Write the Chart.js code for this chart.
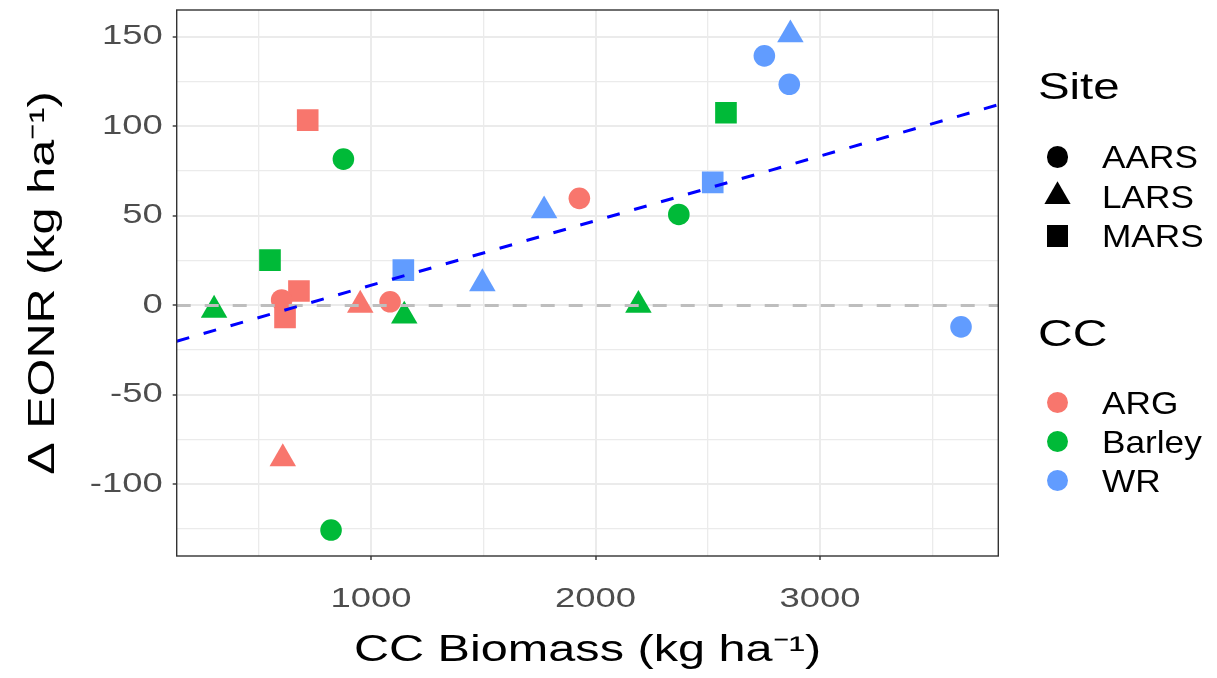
<!DOCTYPE html>
<html><head><meta charset="utf-8">
<script src="https://cdn.jsdelivr.net/npm/chart.js@4.4.0/dist/chart.umd.min.js"></script>
<style>
html,body{margin:0;padding:0;background:#fff;}
#wrap{position:relative;width:1217px;height:678px;overflow:hidden;font-family:"Liberation Sans",Arial,sans-serif;background:#fff;}
#c{position:absolute;left:0;top:0;}
.lg{position:absolute;white-space:nowrap;color:#000;transform-origin:0 50%;}
.sym{position:absolute;}
</style></head><body>
<div id="wrap"><canvas id="c" width="1217" height="678"></canvas><div id="legend"></div></div>
<script>
// ---------------- data ----------------
const ccLevels = ['ARG', 'Barley', 'WR'];
const siteLevels = ['AARS', 'LARS', 'MARS'];
const biomass    = [718, 679, 617, 602, 952, 1085, 607, 1928,
                    877, 550, 301, 1148, 822, 2191, 2371, 2581,
                    1771, 1144, 1496, 2868, 2752, 2863, 2522, 3628];
const deltaEONR  = [103.5, 8.0, -6.8, 3.0, 0.2, 2.0, -85.6, 59.8,
                    81.7, 25.3, -2.6, -5.9, -125.5, 0.1, 50.8, 107.6,
                    52.9, 19.7, 12.2, 151.2, 139.4, 123.5, 68.7, -12.0];
const ccOf       = ['ARG','ARG','ARG','ARG','ARG','ARG','ARG','ARG',
                    'Barley','Barley','Barley','Barley','Barley','Barley','Barley','Barley',
                    'WR','WR','WR','WR','WR','WR','WR','WR'];
const siteOf     = ['MARS','MARS','MARS','AARS','LARS','AARS','LARS','AARS',
                    'AARS','MARS','LARS','LARS','AARS','LARS','AARS','MARS',
                    'LARS','MARS','LARS','LARS','AARS','AARS','MARS','AARS'];
const fitIntercept = -24.9;
const fitSlope = 0.03611;
const refLineY = 0;
const xGridValues = [500, 1000, 1500, 2000, 2500, 3000, 3500];
const yGridValues = [-125, -100, -75, -50, -25, 0, 25, 50, 75, 100, 125, 150];
const xMajorTicks = [1000, 2000, 3000];
const yMajorTicks = [-100, -50, 0, 50, 100, 150];
const xTitle = 'CC Biomass (kg ha\u207B\u00B9)';
const yTitle = '\u0394 EONR (kg ha\u207B\u00B9)';

// ---------------- styles ----------------
const X_MIN = 134.5, X_MAX = 3794, Y_MIN = -140, Y_MAX = 165;
const ccColors = {ARG: '#F8766D', Barley: '#00BA38', WR: '#619CFF'};
const siteStyle = {AARS: 'circle', LARS: 'triangle', MARS: 'rect'};
const siteRadius = {AARS: 10.8, LARS: 15.3, MARS: 15.3};
const FONT = '"Liberation Sans", Arial, sans-serif';
const TEXT_SX = 1.35;

const canvas = document.getElementById('c');
const ctx = canvas.getContext('2d');
const rawFill = ctx.fillText.bind(ctx);
ctx.fillText = function (t, x, y, mw) {
  ctx.save(); ctx.translate(x, y); ctx.scale(TEXT_SX, 1);
  if (mw !== undefined && mw !== null) rawFill(t, 0, 0, mw / TEXT_SX); else rawFill(t, 0, 0);
  ctx.restore();
};

const pointSets = ccLevels.map(cc => {
  const idx = biomass.map((_, i) => i).filter(i => ccOf[i] === cc);
  return {
    type: 'scatter',
    label: cc,
    order: 3,
    data: idx.map(i => ({x: biomass[i], y: deltaEONR[i]})),
    pointStyle: idx.map(i => siteStyle[siteOf[i]]),
    pointRadius: idx.map(i => siteRadius[siteOf[i]]),
    backgroundColor: ccColors[cc],
    borderColor: ccColors[cc],
    pointBorderWidth: 0,
    showLine: false
  };
});

const refLine = {
  type: 'line', label: 'zero', order: 2,
  data: [{x: X_MIN, y: refLineY}, {x: X_MAX, y: refLineY}],
  borderColor: '#BEBEBE', borderWidth: 3, borderDash: [14, 14],
  pointRadius: 0, fill: false, tension: 0
};
const fitLine = {
  type: 'line', label: 'fit', order: 1,
  data: [{x: X_MIN, y: fitIntercept + fitSlope * X_MIN}, {x: X_MAX, y: fitIntercept + fitSlope * X_MAX}],
  borderColor: '#0000FF', borderWidth: 3, borderDash: [13, 15],
  pointRadius: 0, fill: false, tension: 0
};

const panelBorder = {
  id: 'panelBorder',
  afterDatasetsDraw(chart) {
    const a = chart.chartArea, c = chart.ctx;
    c.save(); c.strokeStyle = '#333333'; c.lineWidth = 1.4;
    c.strokeRect(a.left, a.top, a.right - a.left, a.bottom - a.top);
    c.restore();
  }
};

const isMajor = (list, v) => list.some(m => Math.abs(m - v) < 1e-6);
const noPad = s => { s.paddingTop = 0; s.paddingBottom = 0; s.paddingLeft = 0; s.paddingRight = 0; };

new Chart(ctx, {
  data: {datasets: [...pointSets, refLine, fitLine]},
  options: {
    responsive: false, animation: false, devicePixelRatio: 1, events: [],
    layout: {autoPadding: false, padding: {top: 10, right: 218.7, bottom: 0, left: 0}},
    plugins: {legend: {display: false}, tooltip: {enabled: false}},
    scales: {
      x: {
        type: 'linear', min: X_MIN, max: X_MAX, offset: false,
        afterBuildTicks: s => { s.ticks = xGridValues.map(v => ({value: v})); },
        afterFit: s => { s.height = 122; noPad(s); },
        border: {display: false},
        grid: {
          color: '#EBEBEB',
          lineWidth: c => (c.tick && isMajor(xMajorTicks, c.tick.value)) ? 2 : 1.3,
          tickLength: 4, tickWidth: 1.4,
          tickColor: c => (c.tick && isMajor(xMajorTicks, c.tick.value)) ? '#333333' : 'rgba(0,0,0,0)'
        },
        ticks: {
          autoSkip: false, maxRotation: 0, minRotation: 0,
          padding: 23, color: '#4D4D4D', font: {family: FONT, size: 27},
          callback: v => isMajor(xMajorTicks, v) ? String(v) : ''
        },
        title: {display: true, text: xTitle, color: '#000', font: {family: FONT, size: 36},
                padding: {top: 0, bottom: 5}}
      },
      y: {
        type: 'linear', min: Y_MIN, max: Y_MAX,
        afterBuildTicks: s => { s.ticks = yGridValues.map(v => ({value: v})); },
        afterFit: s => { s.width = 176.7; noPad(s); },
        border: {display: false},
        grid: {
          color: '#EBEBEB',
          lineWidth: c => (c.tick && isMajor(yMajorTicks, c.tick.value)) ? 2 : 1.3,
          tickLength: 4, tickWidth: 1.4,
          tickColor: c => (c.tick && isMajor(yMajorTicks, c.tick.value)) ? '#333333' : 'rgba(0,0,0,0)'
        },
        ticks: {
          autoSkip: false,
          padding: 10, color: '#4D4D4D', font: {family: FONT, size: 27},
          callback: v => isMajor(yMajorTicks, v) ? String(v) : ''
        },
        title: {display: true, text: yTitle, color: '#000', font: {family: FONT, size: 36},
                padding: {top: 22, bottom: 0}}
      }
    }
  },
  plugins: [panelBorder]
});

// ---------------- HTML legend ----------------
const legend = document.getElementById('legend');
function addText(txt, left, cy, size, sx) {
  const d = document.createElement('div');
  d.className = 'lg'; d.textContent = txt;
  const lh = Math.round(size * 1.2);
  d.style.left = left + 'px'; d.style.top = (cy - lh / 2) + 'px';
  d.style.height = lh + 'px'; d.style.lineHeight = lh + 'px';
  d.style.fontSize = size + 'px'; d.style.transform = 'scaleX(' + sx + ')';
  legend.appendChild(d);
}
function addSym(style, cx, cy, color) {
  const d = document.createElement('div');
  d.className = 'sym'; d.style.background = color;
  if (style === 'circle') {
    d.style.cssText += 'left:' + (cx - 10.8) + 'px;top:' + (cy - 10.8) + 'px;width:21.6px;height:21.6px;border-radius:50%;';
  } else if (style === 'triangle') {
    d.style.cssText += 'left:' + (cx - 13.25) + 'px;top:' + (cy - 15.3) + 'px;width:26.5px;height:22.95px;clip-path:polygon(50% 0,100% 100%,0 100%);';
  } else {
    d.style.cssText += 'left:' + (cx - 10.8) + 'px;top:' + (cy - 10.8) + 'px;width:21.6px;height:21.6px;';
  }
  legend.appendChild(d);
}
const LG_SYM_X = 1057.5, LG_TXT_X = 1101.7, LG_TITLE_X = 1038;
addText('Site', LG_TITLE_X, 87, 37, 1.28);
const siteRows = [157, 196.5, 236];
siteLevels.forEach((s, i) => { addSym(siteStyle[s], LG_SYM_X, siteRows[i], '#000'); addText(s, LG_TXT_X, siteRows[i], 32, 1.1); });
addText('CC', LG_TITLE_X, 334, 37, 1.3);
const ccRows = [402.5, 441.5, 480.5];
ccLevels.forEach((c, i) => { addSym('circle', LG_SYM_X, ccRows[i], ccColors[c]); addText(c, LG_TXT_X, ccRows[i], 32, 1.1); });
</script></body></html>
